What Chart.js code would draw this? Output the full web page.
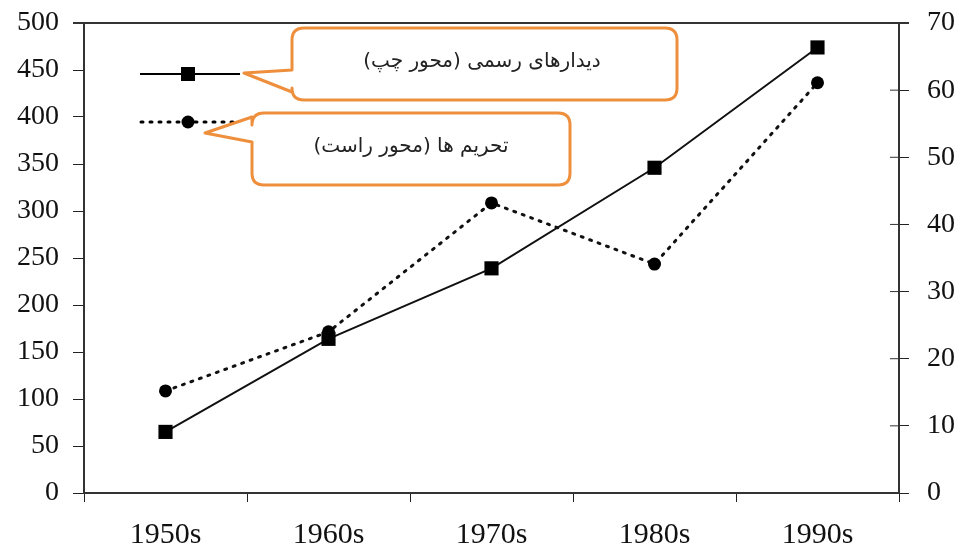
<!DOCTYPE html>
<html>
<head>
<meta charset="utf-8">
<script src="https://cdn.jsdelivr.net/npm/chart.js@4/dist/chart.umd.min.js"></script>
<style>
  html, body { margin: 0; padding: 0; background: #fff; }
  #wrap { width: 962px; height: 548px; position: relative; }
</style>
</head>
<body>
<div id="wrap"><canvas id="chart"></canvas></div>
<script>
// data
const decades = ["1950s", "1960s", "1970s", "1980s", "1990s"];
const visits = [65, 164, 239, 346, 474];        // left axis
const sanctions = [15.2, 24.0, 43.2, 34.1, 61.1]; // right axis
const visitsLabel = "دیدارهای رسمی (محور چپ)";
const sanctionsLabel = "تحریم ها (محور راست)";

const yFont = { family: "'Liberation Serif', serif", size: 28 };
const xFont = { family: "'Liberation Serif', serif", size: 30 };
const orange = "#ee8f3d";

// rounded box with a pointer on its left side
function calloutPath(ctx, x, y, w, h, r, pTop, tipX, tipY, pBot) {
    ctx.beginPath();
    ctx.moveTo(x + r, y);
    ctx.lineTo(x + w - r, y);
    ctx.quadraticCurveTo(x + w, y, x + w, y + r);
    ctx.lineTo(x + w, y + h - r);
    ctx.quadraticCurveTo(x + w, y + h, x + w - r, y + h);
    ctx.lineTo(x + r, y + h);
    ctx.quadraticCurveTo(x, y + h, x, y + h - r);
    ctx.lineTo(x, pBot);
    ctx.lineTo(tipX, tipY);
    ctx.lineTo(x, pTop);
    ctx.lineTo(x, y + r);
    ctx.quadraticCurveTo(x, y, x + r, y);
    ctx.closePath();
}

const calloutLegend = {
    id: "calloutLegend",
    afterDraw(chart) {
        const ctx = chart.ctx;
        const area = chart.chartArea;
        const y1 = chart.scales.y1;
        ctx.save();

        // top frame line
        ctx.strokeStyle = "#333";
        ctx.lineWidth = 2;
        ctx.beginPath();
        ctx.moveTo(area.left - 11, area.top);
        ctx.lineTo(area.right + 10, area.top);
        ctx.stroke();

        // inner half of right axis ticks
        ctx.lineWidth = 1;
        y1.ticks.forEach((t, i) => {
            const py = y1.getPixelForTick(i);
            ctx.beginPath();
            ctx.moveTo(area.right - 9, py);
            ctx.lineTo(area.right, py);
            ctx.stroke();
        });

        // legend samples
        const ds = chart.data.datasets;
        ctx.strokeStyle = "#000";
        ctx.fillStyle = "#000";
        ctx.lineWidth = 2;
        ctx.beginPath();
        ctx.moveTo(140, 74);
        ctx.lineTo(240, 74);
        ctx.stroke();
        ctx.fillRect(188 - 7, 74 - 7, 14, 14);

        ctx.setLineDash(ds[1].borderDash);
        ctx.lineCap = "round";
        ctx.lineWidth = 3;
        ctx.beginPath();
        ctx.moveTo(141, 122);
        ctx.lineTo(234, 122);
        ctx.stroke();
        ctx.setLineDash([]);
        ctx.beginPath();
        ctx.arc(188, 122, ds[1].pointRadius, 0, Math.PI * 2);
        ctx.fill();

        // callout boxes
        ctx.strokeStyle = orange;
        ctx.lineWidth = 3;
        ctx.lineJoin = "round";
        calloutPath(ctx, 292, 28, 385, 72, 12, 70, 244, 73, 92);
        ctx.stroke();
        calloutPath(ctx, 252, 113, 318, 72, 12, 117, 205, 133, 142);
        ctx.stroke();

        ctx.fillStyle = "#222";
        ctx.font = "20px 'DejaVu Sans'";
        ctx.textAlign = "center";
        ctx.textBaseline = "middle";
        ctx.direction = "rtl";
        ctx.fillText(ds[0].label, 482, 62);
        ctx.fillText(ds[1].label, 411, 147);
        ctx.restore();
    }
};

function fixVertical(width) {
    return s => {
        s.width = width;
        s.paddingTop = 0;
        s.paddingBottom = 0;
    };
}

new Chart(document.getElementById("chart"), {
    type: "line",
    data: {
        labels: decades,
        datasets: [
            {
                label: visitsLabel,
                data: visits,
                yAxisID: "y",
                borderColor: "#111",
                borderWidth: 2,
                pointStyle: "rect",
                pointRadius: 10,
                pointBackgroundColor: "#000",
                pointBorderWidth: 0,
                tension: 0
            },
            {
                label: sanctionsLabel,
                data: sanctions,
                yAxisID: "y1",
                borderColor: "#111",
                borderWidth: 3,
                borderDash: [2, 7],
                borderCapStyle: "round",
                pointStyle: "circle",
                pointRadius: 6.5,
                pointBackgroundColor: "#000",
                pointBorderWidth: 0,
                tension: 0
            }
        ]
    },
    options: {
        responsive: true,
        maintainAspectRatio: false,
        animation: false,
        layout: { padding: { top: 23, left: 0, right: 0, bottom: 0 } },
        plugins: {
            legend: { display: false },
            tooltip: { enabled: false }
        },
        scales: {
            x: {
                type: "category",
                offset: true,
                grid: { drawOnChartArea: false, offset: true, tickLength: 9, color: "#222" },
                border: { color: "#333", width: 2 },
                ticks: { font: xFont, color: "#111", padding: 15 },
                afterFit: s => { s.height = 55; s.paddingLeft = 0; s.paddingRight = 0; }
            },
            y: {
                position: "left",
                min: 0,
                max: 500,
                ticks: { stepSize: 50, font: yFont, color: "#111", padding: 14 },
                grid: { drawOnChartArea: false, tickLength: 11, color: "#222" },
                border: { color: "#333", width: 2 },
                afterFit: fixVertical(84)
            },
            y1: {
                position: "right",
                min: 0,
                max: 70,
                ticks: { stepSize: 10, font: yFont, color: "#111", padding: 18 },
                grid: { drawOnChartArea: false, tickLength: 10, color: "#222" },
                border: { color: "#333", width: 2 },
                afterFit: fixVertical(63)
            }
        }
    },
    plugins: [calloutLegend]
});
</script>
</body>
</html>
